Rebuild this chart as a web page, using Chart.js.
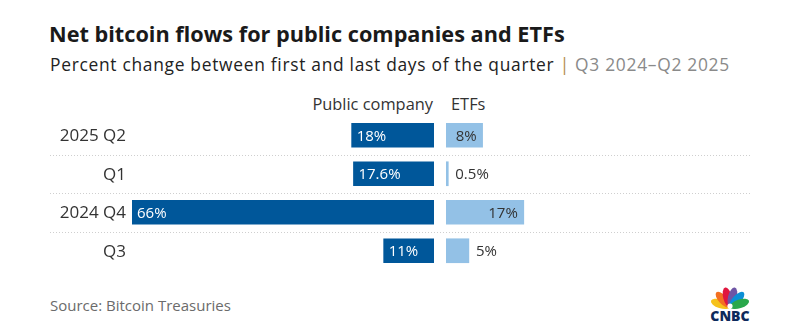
<!DOCTYPE html>
<html>
<head>
<meta charset="utf-8">
<script src="https://cdn.jsdelivr.net/npm/chart.js@4/dist/chart.umd.min.js"></script>
<style>
  html, body { margin: 0; padding: 0; background: #fff; }
  body { width: 795px; height: 327px; position: relative; overflow: hidden; font-family: "Open Sans", Lato, sans-serif; color: #222; }
  .abs { position: absolute; white-space: nowrap; }
  #title { left: 49px; top: 19px; font-size: 21.7px; font-weight: 700; color: #1a1a1a; line-height: 30px; }
  #subtitle { left: 50px; top: 51px; font-size: 17.4px; letter-spacing: 0.7px; color: #222; line-height: 26px; }
  #subtitle .sep { color: #b58d4a; }
  #subtitle .range { color: #8a8a8a; }
  .head { top: 93px; font-size: 16.4px; color: #333; line-height: 22px; }
  #headPub { right: calc(795px - 433px); }
  #headEtf { left: 451px; }
  #source { left: 50px; top: 294px; font-size: 15px; color: #6b6b6b; line-height: 22px; }
  #pubWrap { left: 50px; top: 116px; width: 390px; height: 154px; }
  #etfWrap { left: 440px; top: 116px; width: 310px; height: 154px; }
  #logo { left: 706px; top: 282px; }
</style>
</head>
<body>
<div id="title" class="abs">Net bitcoin flows for public companies and ETFs</div>
<div id="subtitle" class="abs">Percent change between first and last days of the quarter <span class="sep">|</span> <span class="range">Q3 2024–Q2 2025</span></div>
<div id="headPub" class="abs head">Public company</div>
<div id="headEtf" class="abs head">ETFs</div>
<div id="pubWrap" class="abs"><canvas id="pub"></canvas></div>
<div id="etfWrap" class="abs"><canvas id="etf"></canvas></div>
<div id="source" class="abs">Source: Bitcoin Treasuries</div>
<svg id="logo" class="abs" width="48" height="42" viewBox="0 0 48 42">
  <g transform="translate(24,25)">
    <ellipse cx="0" cy="-10" rx="4.4" ry="10" fill="#f6c21c" transform="rotate(-72)"/>
    <ellipse cx="0" cy="-10" rx="4.4" ry="10" fill="#f37021" transform="rotate(-43)"/>
    <ellipse cx="0" cy="-10" rx="4.4" ry="10" fill="#e0163f" transform="rotate(-14)"/>
    <ellipse cx="0" cy="-10" rx="4.4" ry="10" fill="#6e55a5" transform="rotate(14)"/>
    <ellipse cx="0" cy="-10" rx="4.4" ry="10" fill="#0b8fd6" transform="rotate(43)"/>
    <ellipse cx="0" cy="-10" rx="4.4" ry="10" fill="#29a84b" transform="rotate(72)"/>
    <circle cx="0" cy="-1" r="2.6" fill="#fff"/>
  </g>
  <text x="24" y="39" text-anchor="middle" font-family="'Open Sans', sans-serif" font-weight="800" font-size="14" fill="#0d2a5c">CNBC</text>
</svg>
<script>
// Quarters, top row first
const quarters = ['2025 Q2', 'Q1', '2024 Q4', 'Q3'];
// Percent change in bitcoin holdings
const publicCompany = [18, 17.6, 66, 11];
const etfs = [8, 0.5, 17, 5];
const publicLabels = ['18%', '17.6%', '66%', '11%'];
const etfLabels = ['8%', '0.5%', '17%', '5%'];

const PUB_BLUE = '#00579a';
const ETF_BLUE = '#93c1e6';
const FONT = '"Open Sans", Lato, sans-serif';
// both panels share one scale so bar lengths are comparable
const axisMax = Math.max(...publicCompany, ...etfs);

// dotted row separators between categories, across the full canvas width
const rowSeparators = {
  id: 'rowSeparators',
  beforeDatasetsDraw(chart) {
    const { ctx, scales } = chart;
    const y = scales.y;
    ctx.save();
    ctx.strokeStyle = '#cfcfcf';
    ctx.lineWidth = 1;
    ctx.setLineDash([1, 2]);
    for (let i = 1; i < quarters.length; i++) {
      const yy = Math.round((y.getPixelForValue(i - 1) + y.getPixelForValue(i)) / 2) + 0.5;
      ctx.beginPath();
      ctx.moveTo(0, yy);
      ctx.lineTo(chart.width, yy);
      ctx.stroke();
    }
    ctx.restore();
  }
};

// quarter names, right-aligned just left of the plot area
const categoryLabels = {
  id: 'categoryLabels',
  afterDraw(chart, args, opts) {
    if (!opts.show) return;
    const { ctx, chartArea, scales } = chart;
    ctx.save();
    ctx.font = '17px ' + FONT;
    ctx.fillStyle = '#333333';
    ctx.textAlign = 'right';
    ctx.textBaseline = 'middle';
    quarters.forEach((q, i) => {
      ctx.fillText(q, chartArea.left - 6, scales.y.getPixelForValue(i) + 1);
    });
    ctx.restore();
  }
};

// value labels: white inside the dark bars; dark inside or beside the light bars
const valueLabels = {
  id: 'valueLabels',
  afterDatasetsDraw(chart, args, opts) {
    const { ctx } = chart;
    const meta = chart.getDatasetMeta(0);
    ctx.save();
    ctx.font = '15px ' + FONT;
    ctx.textBaseline = 'middle';
    meta.data.forEach((bar, i) => {
      const text = opts.labels[i];
      const left = Math.min(bar.x, bar.base);
      const right = Math.max(bar.x, bar.base);
      const w = ctx.measureText(text).width;
      if (opts.side === 'public') {
        ctx.fillStyle = '#ffffff';
        ctx.textAlign = 'left';
        ctx.fillText(text, left + 5, bar.y + 1);
      } else if (right - left >= w + 12) {
        ctx.fillStyle = '#333333';
        ctx.textAlign = 'right';
        ctx.fillText(text, right - 6, bar.y + 1);
      } else {
        ctx.fillStyle = '#333333';
        ctx.textAlign = 'left';
        ctx.fillText(text, right + 7, bar.y + 1);
      }
    });
    ctx.restore();
  }
};

const common = {
  responsive: true,
  maintainAspectRatio: false,
  animation: false,
  indexAxis: 'y',
  plugins: { legend: { display: false }, tooltip: { enabled: false } }
};

new Chart(document.getElementById('pub'), {
  type: 'bar',
  data: {
    labels: quarters,
    datasets: [{ data: publicCompany, backgroundColor: PUB_BLUE, barThickness: 24, borderWidth: 0 }]
  },
  options: {
    ...common,
    layout: { autoPadding: false, padding: { left: 82, right: 6, top: 0, bottom: 0 } },
    scales: {
      x: { display: false, min: 0, max: axisMax, reverse: true },
      y: { display: false }
    },
    plugins: {
      ...common.plugins,
      valueLabels: { labels: publicLabels, side: 'public' },
      categoryLabels: { show: true }
    }
  },
  plugins: [rowSeparators, valueLabels, categoryLabels]
});

new Chart(document.getElementById('etf'), {
  type: 'bar',
  data: {
    labels: quarters,
    datasets: [{ data: etfs, backgroundColor: ETF_BLUE, barThickness: 24, borderWidth: 0, minBarLength: 2 }]
  },
  options: {
    ...common,
    layout: { autoPadding: false, padding: { left: 6, right: 2, top: 0, bottom: 0 } },
    scales: {
      x: { display: false, min: 0, max: axisMax },
      y: { display: false }
    },
    plugins: {
      ...common.plugins,
      valueLabels: { labels: etfLabels, side: 'etf' },
      categoryLabels: { show: false }
    }
  },
  plugins: [rowSeparators, valueLabels, categoryLabels]
});
</script>
</body>
</html>
